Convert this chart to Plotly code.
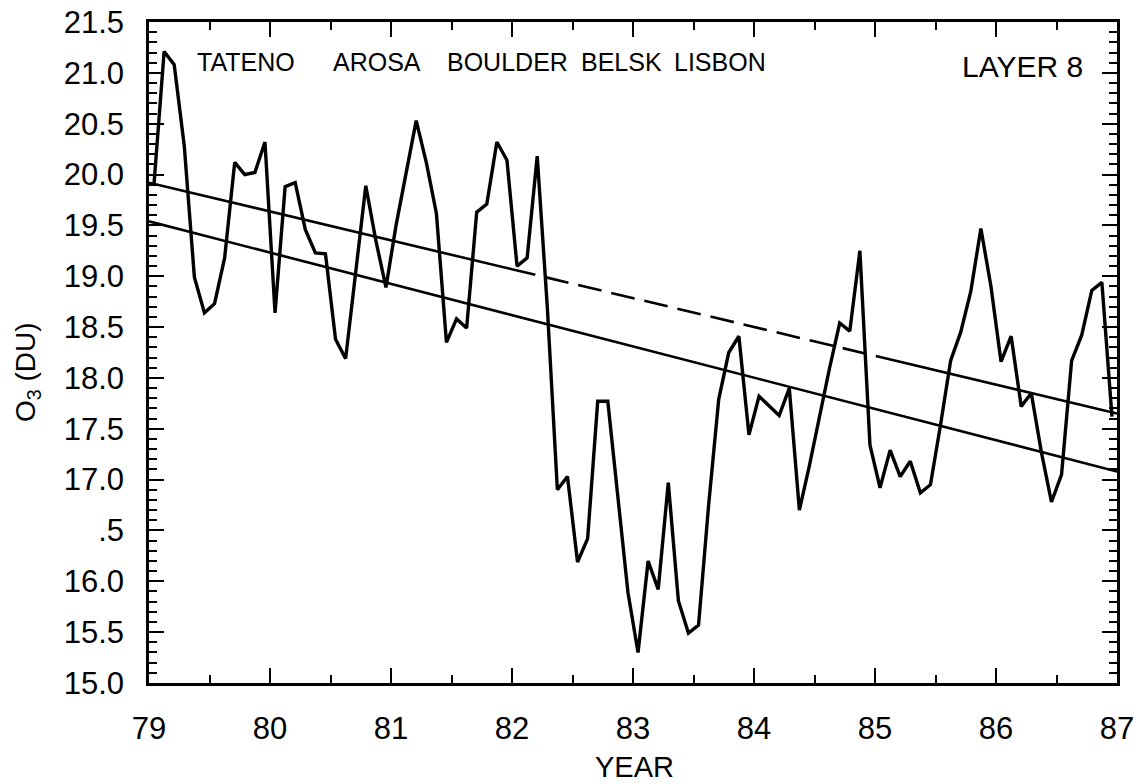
import numpy as np
import plotly.graph_objects as go

# Monthly layer-8 ozone (DU), Jan 1979 .. Dec 1986 (mid-month samples)
start_year = 79
o3_values = [
    19.91, 21.21, 21.08, 20.28, 18.99, 18.64, 18.73, 19.18, 20.12, 20.00, 20.02, 20.32,
    18.64, 19.88, 19.92, 19.46, 19.23, 19.22, 18.38, 18.19, 19.04, 19.89, 19.35, 18.89,
    19.50, 20.02, 20.53, 20.12, 19.62, 18.35, 18.58, 18.49, 19.63, 19.71, 20.32, 20.14,
    19.10, 19.18, 20.18, 18.70, 16.90, 17.03, 16.19, 16.42, 17.77, 17.77, 16.80, 15.89,
    15.30, 16.20, 15.92, 16.97, 15.81, 15.49, 15.57, 16.75, 17.79, 18.25, 18.41, 17.44,
    17.82, 17.72, 17.63, 17.90, 16.70, 17.14, 17.64, 18.10, 18.54, 18.46, 19.25, 17.34,
    16.92, 17.29, 17.03, 17.18, 16.87, 16.95, 17.54, 18.17, 18.45, 18.85, 19.47, 18.90,
    18.16, 18.41, 17.72, 17.85, 17.27, 16.78, 17.05, 18.17, 18.42, 18.86, 18.94, 17.62,
]
months = np.arange(len(o3_values))
years = start_year + (months + 0.5) / 12.0

# Trend lines (end values at 79 and 87)
trend_x = [79, 87]
upper_trend = [19.92, 17.65]
lower_trend = [19.54, 17.08]
dash_start, dash_end = 82.0, 85.05

stations = ["TATENO", "AROSA", "BOULDER", "BELSK", "LISBON"]
station_x = [0.1007, 0.2352, 0.3704, 0.4881, 0.5899]
layer_label = "LAYER 8"

y_tickvals = [15.0, 15.5, 16.0, 16.5, 17.0, 17.5, 18.0, 18.5, 19.0, 19.5, 20.0, 20.5, 21.0, 21.5]
y_ticktext = ["15.0", "15.5", "16.0", ".5", "17.0", "17.5", "18.0", "18.5", "19.0", "19.5",
              "20.0", "20.5", "21.0", "21.5"]
x_tickvals = [79, 80, 81, 82, 83, 84, 85, 86, 87]
x_ticktext = [str(v) for v in x_tickvals]

FONT = "Liberation Sans, Arial, Helvetica, sans-serif"


def trend_at(vals, x):
    return float(np.interp(x, trend_x, vals))


fig = go.Figure()

fig.add_trace(go.Scatter(x=years, y=o3_values, mode="lines",
                         line=dict(color="black", width=3.4), showlegend=False))

# upper trend: solid, dashed, solid
seg1 = [trend_x[0], dash_start]
seg2 = [dash_start, dash_end]
seg3 = [dash_end, trend_x[1]]
TW = 2.6
fig.add_trace(go.Scatter(x=seg1, y=[trend_at(upper_trend, v) for v in seg1], mode="lines",
                         line=dict(color="black", width=TW), showlegend=False))
fig.add_trace(go.Scatter(x=seg2, y=[trend_at(upper_trend, v) for v in seg2], mode="lines",
                         line=dict(color="black", width=TW, dash="24px,10px"), showlegend=False))
fig.add_trace(go.Scatter(x=seg3, y=[trend_at(upper_trend, v) for v in seg3], mode="lines",
                         line=dict(color="black", width=TW), showlegend=False))
fig.add_trace(go.Scatter(x=trend_x, y=lower_trend, mode="lines",
                         line=dict(color="black", width=TW), showlegend=False))

annotations = []
for name, xp in zip(stations, station_x):
    annotations.append(dict(text=name, x=xp, y=0.9395, xref="paper", yref="paper",
                            xanchor="center", yanchor="middle", showarrow=False,
                            font=dict(family=FONT, size=25, color="black")))
annotations.append(dict(text=layer_label, x=0.967, y=0.9327, xref="paper", yref="paper",
                        xanchor="right", yanchor="middle", showarrow=False,
                        font=dict(family=FONT, size=30, color="black")))
annotations.append(dict(text="YEAR", x=0.502, y=-0.127, xref="paper", yref="paper",
                        xanchor="center", yanchor="middle", showarrow=False,
                        font=dict(family=FONT, size=29, color="black")))
annotations.append(dict(text="O<sub>3</sub> (DU)", x=-0.125, y=0.4705, xref="paper", yref="paper",
                        xanchor="center", yanchor="middle", showarrow=False, textangle=-90,
                        font=dict(family=FONT, size=28, color="black")))

fig.update_layout(
    width=1139, height=784,
    margin=dict(l=149, r=22, t=22, b=101, autoexpand=False),
    paper_bgcolor="white", plot_bgcolor="white",
    annotations=annotations,
    font=dict(family=FONT, color="black"),
    xaxis=dict(range=[79, 87], tickmode="array", tickvals=x_tickvals, ticktext=x_ticktext,
               ticks="inside", ticklen=15, tickwidth=1.5, tickcolor="black",
               showline=True, linecolor="black", linewidth=2.5, mirror="ticks",
               showgrid=False, zeroline=False, automargin=False,
               tickfont=dict(family=FONT, size=31, color="black"), ticklabelstandoff=16,
               minor=dict(tickmode="array", tickvals=[v + 0.5 for v in x_tickvals[:-1]],
                          ticks="inside", ticklen=8, tickwidth=1.5, tickcolor="black",
                          showgrid=False)),
    yaxis=dict(range=[15.0, 21.5], tickmode="array", tickvals=y_tickvals, ticktext=y_ticktext,
               ticks="inside", ticklen=15, tickwidth=1.5, tickcolor="black",
               showline=True, linecolor="black", linewidth=2.5, mirror="ticks",
               showgrid=False, zeroline=False, automargin=False,
               tickfont=dict(family=FONT, size=31, color="black"), ticklabelstandoff=16,
               minor=dict(dtick=0.1, ticks="inside", ticklen=8, tickwidth=1.5,
                          tickcolor="black", showgrid=False)),
)

fig.write_html("out.html", config={"displayModeBar": False},
               post_script="document.body.style.margin='0px';")
